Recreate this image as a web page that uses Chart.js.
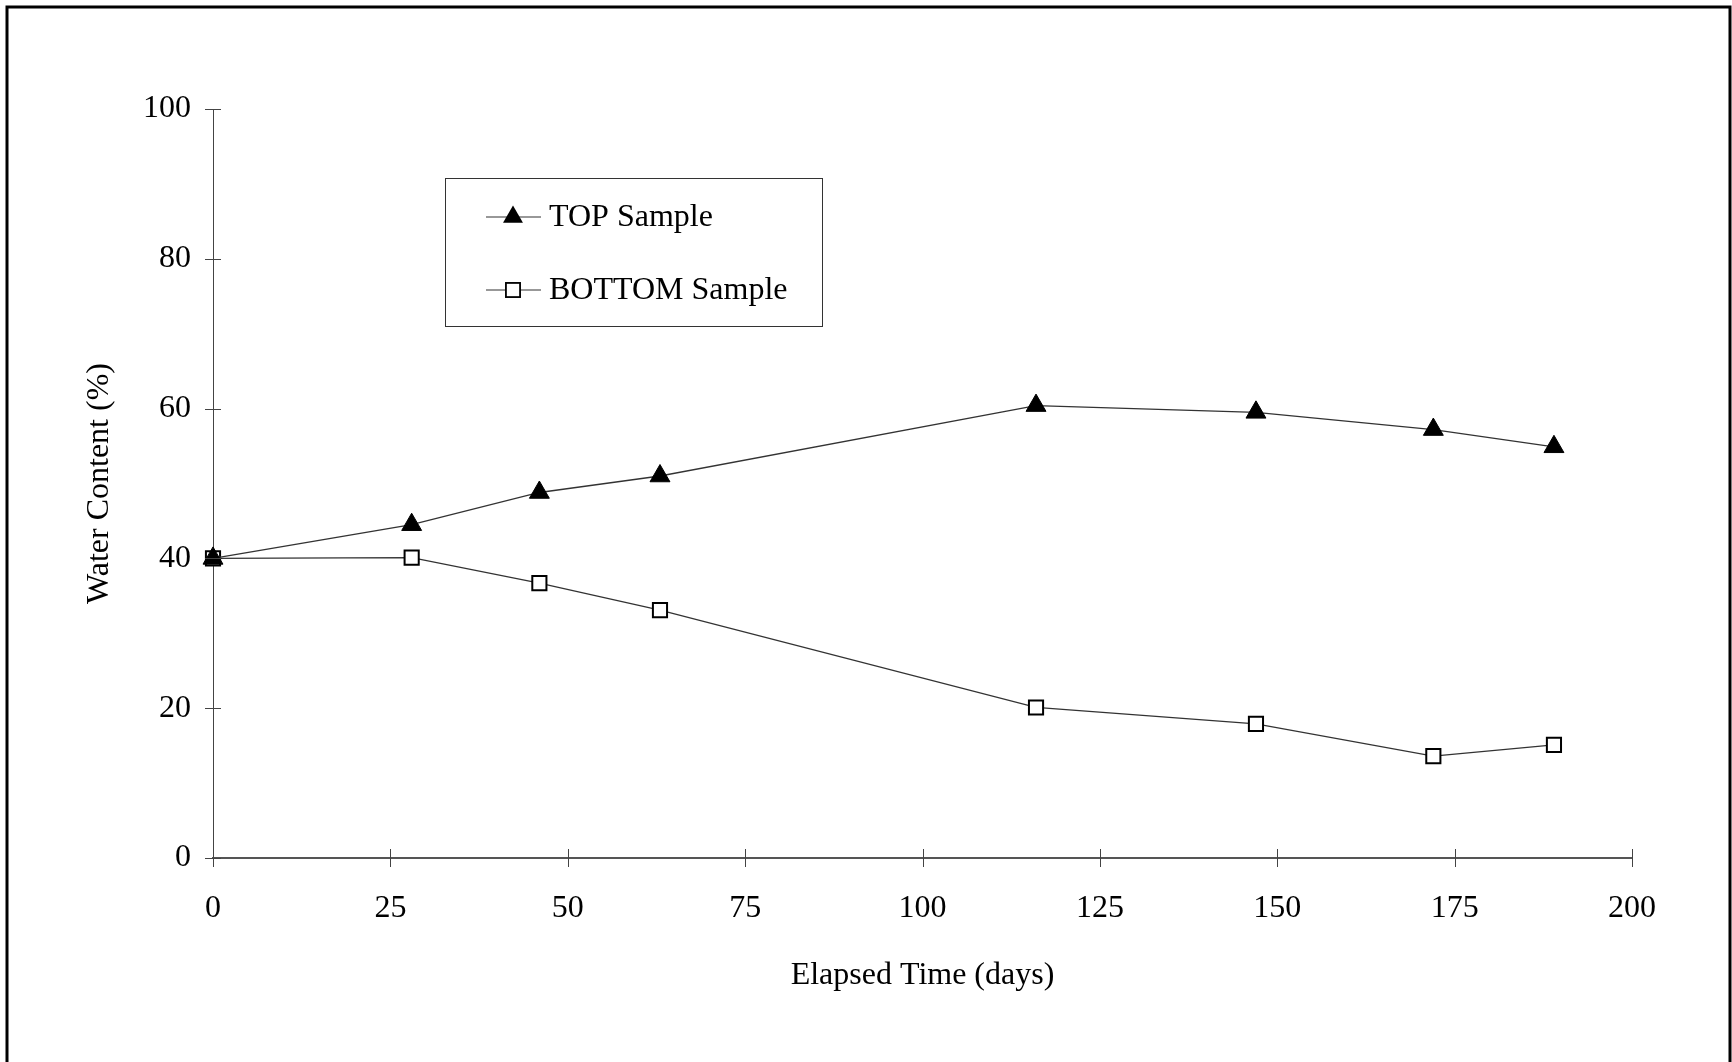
<!DOCTYPE html>
<html>
<head>
<meta charset="utf-8">
<title>Water Content vs Elapsed Time</title>
<script src="https://cdn.jsdelivr.net/npm/chart.js@4.4.1/dist/chart.umd.min.js"></script>
<style>
  html, body { margin: 0; padding: 0; background: #fff; }
  canvas { display: block; }
</style>
</head>
<body>
<canvas id="waterChart" width="1732" height="1062"></canvas>
<script>
// data
const days = [0, 28, 46, 63, 116, 147, 172, 189];
const topSample = [40.0, 44.5, 48.8, 51.0, 60.4, 59.5, 57.2, 54.9];
const bottomSample = [40.0, 40.1, 36.7, 33.1, 20.1, 17.9, 13.6, 15.1];
const seriesNames = ['TOP Sample', 'BOTTOM Sample'];
const xTicks = [0, 25, 50, 75, 100, 125, 150, 175, 200];
const yTicks = [0, 20, 40, 60, 80, 100];

const FONT = "'Liberation Serif', 'Times New Roman', serif";

function toPoints(values) {
    return days.map((d, i) => ({ x: d, y: values[i] }));
}

// page frame (scan border)
const framePlugin = {
    id: 'frame',
    beforeDraw(chart) {
        const c = chart.ctx;
        c.save();
        c.fillStyle = '#fff';
        c.fillRect(0, 0, chart.width, chart.height);
        c.strokeStyle = '#000';
        c.lineWidth = 3;
        c.beginPath();
        c.moveTo(7, chart.height);
        c.lineTo(7, 7);
        c.lineTo(chart.width - 2, 7);
        c.lineTo(chart.width - 2, chart.height);
        c.stroke();
        c.restore();
    }
};

// tick marks that cross the axis lines
const crossTicks = {
    id: 'crossTicks',
    afterDatasetsDraw(chart) {
        const c = chart.ctx;
        const xs = chart.scales.x, ys = chart.scales.y;
        const x0 = xs.getPixelForValue(0), y0 = ys.getPixelForValue(0);
        c.save();
        c.strokeStyle = '#444';
        c.lineWidth = 1;
        xTicks.forEach(v => {
            const px = Math.round(xs.getPixelForValue(v)) + 0.5;
            c.beginPath();
            c.moveTo(px, y0 - 9);
            c.lineTo(px, y0 + 9);
            c.stroke();
        });
        yTicks.forEach(v => {
            const py = Math.round(ys.getPixelForValue(v)) + 0.5;
            c.beginPath();
            c.moveTo(x0 - 8, py);
            c.lineTo(x0 + 8, py);
            c.stroke();
        });
        c.restore();
    }
};

// boxed legend inside the plot area
const boxLegend = {
    id: 'boxLegend',
    afterDraw(chart) {
        const c = chart.ctx;
        const box = { x: 445, y: 178, w: 377, h: 148 };
        c.save();
        c.strokeStyle = '#333';
        c.lineWidth = 1;
        c.strokeRect(box.x + 0.5, box.y + 0.5, box.w, box.h);
        c.font = '32px ' + FONT;
        c.textBaseline = 'middle';
        c.fillStyle = '#000';
        chart.data.datasets.forEach((ds, i) => {
            const cy = box.y + 39 + i * 73;
            const lx0 = box.x + 41, lx1 = box.x + 96, mx = box.x + 68;
            c.strokeStyle = '#333';
            c.lineWidth = 1.2;
            c.beginPath();
            c.moveTo(lx0, cy);
            c.lineTo(lx1, cy);
            c.stroke();
            if (ds.pointStyle === 'triangle') {
                const r = ds.pointRadius;
                c.fillStyle = '#000';
                c.beginPath();
                c.moveTo(mx, cy - r);
                c.lineTo(mx + r * 0.866, cy + r * 0.5);
                c.lineTo(mx - r * 0.866, cy + r * 0.5);
                c.closePath();
                c.fill();
            } else {
                const s = ds.pointRadius * Math.SQRT1_2;
                c.fillStyle = '#fff';
                c.fillRect(mx - s, cy - s, 2 * s, 2 * s);
                c.strokeStyle = '#000';
                c.lineWidth = 1.8;
                c.strokeRect(mx - s, cy - s, 2 * s, 2 * s);
            }
            c.fillStyle = '#000';
            c.fillText(ds.label, box.x + 104, cy + 1);
        });
        c.restore();
    }
};

const ctx = document.getElementById('waterChart').getContext('2d');
const waterChart = new Chart(ctx, {
    type: 'line',
    data: {
        datasets: [{
            label: seriesNames[0],
            data: toPoints(topSample),
            borderColor: '#333',
            borderWidth: 1.3,
            pointStyle: 'triangle',
            pointRadius: 11.5,
            pointBackgroundColor: '#000',
            pointBorderColor: '#000',
            pointBorderWidth: 1,
            clip: false
        }, {
            label: seriesNames[1],
            data: toPoints(bottomSample),
            borderColor: '#333',
            borderWidth: 1.3,
            pointStyle: 'rect',
            pointRadius: 10,
            pointBackgroundColor: '#fff',
            pointBorderColor: '#000',
            pointBorderWidth: 2,
            clip: false
        }]
    },
    options: {
        responsive: false,
        animation: false,
        layout: { padding: { top: 109, right: 100, left: 0, bottom: 0 } },
        plugins: {
            legend: { display: false },
            tooltip: { enabled: false }
        },
        scales: {
            x: {
                type: 'linear',
                min: 0,
                max: 200,
                afterBuildTicks: s => { s.ticks = xTicks.map(v => ({ value: v })); },
                afterFit: s => { s.height = 204; },
                grid: { display: false, drawTicks: false },
                border: { display: true, color: '#555', width: 2 },
                ticks: { color: '#000', padding: 31, font: { family: FONT, size: 32 } },
                title: {
                    display: true,
                    text: 'Elapsed Time (days)',
                    color: '#000',
                    font: { family: FONT, size: 32 },
                    padding: { top: 0, bottom: 67 }
                }
            },
            y: {
                min: 0,
                max: 100,
                afterBuildTicks: s => { s.ticks = yTicks.map(v => ({ value: v })); },
                afterFit: s => { s.width = 213; },
                grid: { display: false, drawTicks: false },
                border: { display: true, color: '#444', width: 1 },
                ticks: { color: '#000', padding: 22, font: { family: FONT, size: 32 } },
                title: {
                    display: true,
                    text: 'Water Content (%)',
                    color: '#000',
                    font: { family: FONT, size: 32 },
                    padding: { top: 80, bottom: 0 }
                }
            }
        }
    },
    plugins: [framePlugin, crossTicks, boxLegend]
});
</script>
</body>
</html>
